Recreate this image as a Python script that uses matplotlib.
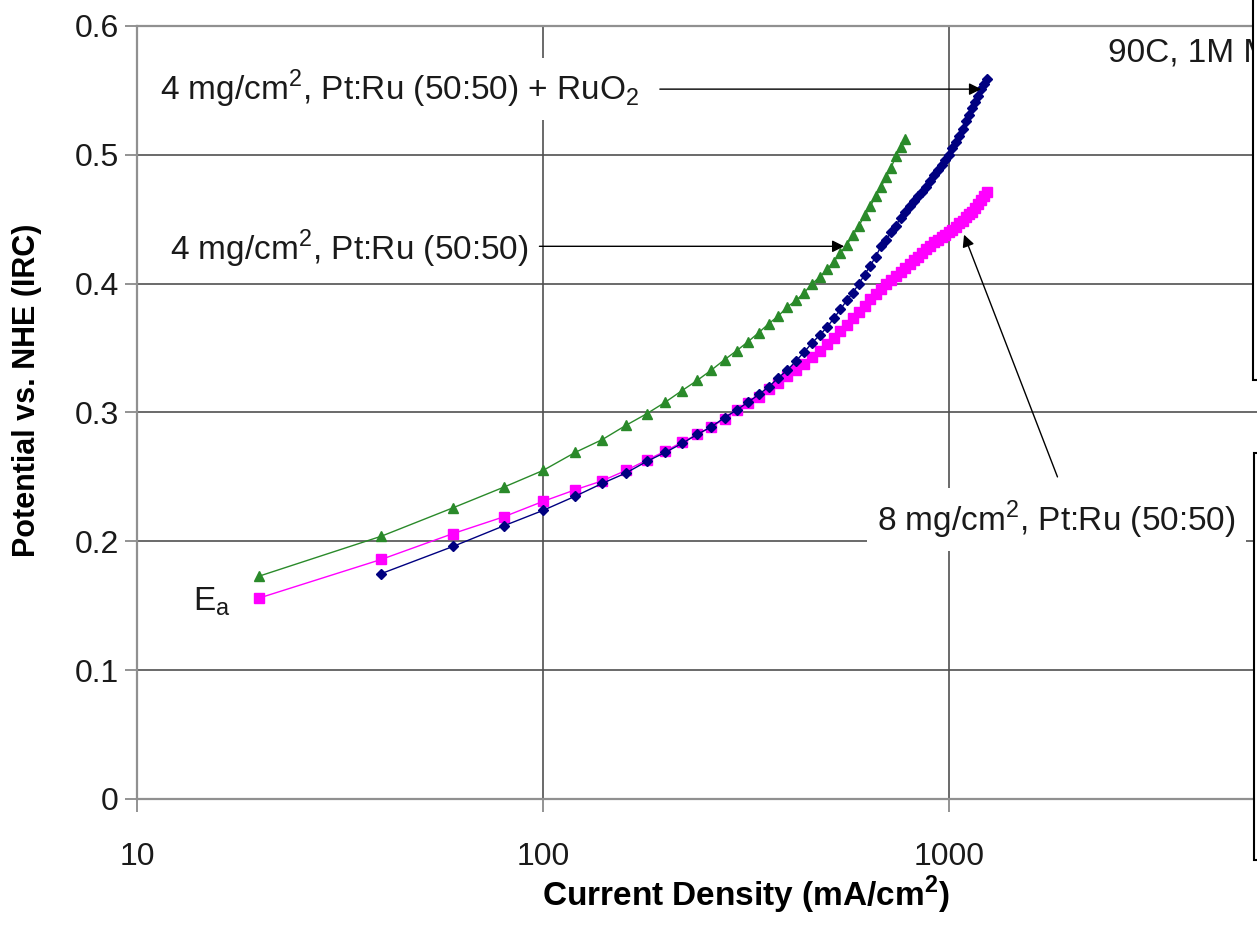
import matplotlib
matplotlib.use("Agg")
import matplotlib.pyplot as plt
from matplotlib.patches import Rectangle

plt.rcParams["font.family"] = ["Liberation Sans", "DejaVu Sans"]
plt.rcParams["mathtext.fontset"] = "custom"
plt.rcParams["mathtext.rm"] = "Liberation Sans"
plt.rcParams["mathtext.bf"] = "Liberation Sans:bold"

# Current density (mA/cm^2) and anode potential (V vs NHE, IR-corrected)
j_ptru4 = [20, 40, 60, 80, 100, 120, 140, 160, 180, 200, 220, 240, 260, 280, 300,
           320, 340, 360, 380, 400, 420, 440, 460, 480, 500, 520, 540, 560, 580, 600,
           620, 640, 660, 680, 700, 720, 740, 760, 780]
e_ptru4 = [0.173, 0.204, 0.226, 0.242, 0.255, 0.269, 0.279, 0.290, 0.299, 0.308,
           0.317, 0.325, 0.333, 0.341, 0.348, 0.355, 0.362, 0.369, 0.375, 0.382,
           0.387, 0.393, 0.400, 0.405, 0.411, 0.417, 0.424, 0.430, 0.438, 0.445,
           0.453, 0.460, 0.468, 0.475, 0.483, 0.490, 0.499, 0.506, 0.512]

j_ruo2 = [40, 60, 80, 100, 120, 140, 160, 180, 200, 220, 240, 260, 280, 300,
          320, 340, 360, 380, 400, 420, 440, 460, 480, 500, 520, 540, 560, 580, 600,
          620, 640, 660, 680, 700, 720, 740, 760, 780, 800, 820, 840, 860, 880, 900,
          920, 940, 960, 980, 1000, 1020, 1040, 1060, 1080, 1100, 1120, 1140, 1160,
          1180, 1200, 1220, 1240]
e_ruo2 = [0.175, 0.196, 0.212, 0.224, 0.235, 0.245, 0.253, 0.262, 0.269, 0.276,
          0.283, 0.289, 0.296, 0.302, 0.308, 0.314, 0.320, 0.327, 0.333, 0.340,
          0.347, 0.354, 0.360, 0.366, 0.373, 0.380, 0.387, 0.393, 0.400, 0.407,
          0.414, 0.421, 0.429, 0.434, 0.440, 0.445, 0.451, 0.456, 0.460, 0.464,
          0.468, 0.471, 0.475, 0.480, 0.484, 0.488, 0.492, 0.496, 0.500, 0.505,
          0.510, 0.515, 0.520, 0.526, 0.531, 0.536, 0.541, 0.546, 0.551, 0.555,
          0.559]

j_ptru8 = [20, 40, 60, 80, 100, 120, 140, 160, 180, 200, 220, 240, 260, 280, 300,
           320, 340, 360, 380, 400, 420, 440, 460, 480, 500, 520, 540, 560, 580, 600,
           620, 640, 660, 680, 700, 720, 740, 760, 780, 800, 820, 840, 860, 880, 900,
           920, 940, 960, 980, 1000, 1020, 1040, 1060, 1080, 1100, 1120, 1140, 1160,
           1180, 1200, 1220, 1240]
e_ptru8 = [0.156, 0.186, 0.206, 0.219, 0.231, 0.240, 0.247, 0.255, 0.263, 0.270,
           0.277, 0.283, 0.289, 0.295, 0.302, 0.307, 0.312, 0.318, 0.323, 0.328,
           0.333, 0.338, 0.343, 0.348, 0.353, 0.358, 0.363, 0.368, 0.373, 0.378,
           0.383, 0.388, 0.392, 0.396, 0.400, 0.403, 0.406, 0.409, 0.412, 0.415,
           0.418, 0.421, 0.424, 0.427, 0.429, 0.432, 0.434, 0.436, 0.438, 0.440,
           0.442, 0.444, 0.447, 0.449, 0.452, 0.454, 0.456, 0.459, 0.462, 0.465,
           0.468, 0.471]

x_ticks = [10, 100, 1000]
x_tick_labels = ["10", "100", "1000"]
y_ticks = [0, 0.1, 0.2, 0.3, 0.4, 0.5, 0.6]
y_tick_labels = ["0", "0.1", "0.2", "0.3", "0.4", "0.5", "0.6"]

W, H = 1257, 934
fig = plt.figure(figsize=(W / 100, H / 100), dpi=100)
ax = fig.add_axes([137 / W, 1 - 799 / H, 1218 / W, 773 / H])
ax.set_xscale("log")
ax.set_xlim(10, 10000)
ax.set_ylim(0, 0.6)

ax.grid(True, which="major", color="#505050", lw=1.2)
ax.minorticks_off()
ax.set_xticks(x_ticks)
ax.set_xticklabels(x_tick_labels)
ax.set_yticks(y_ticks)
ax.set_yticklabels(y_tick_labels)
ax.tick_params(axis="both", direction="out", length=9, width=1.2, color="#808080",
               labelsize=23, labelcolor="#1a1a1a")
ax.tick_params(axis="x", pad=22)
ax.tick_params(axis="y", pad=4)
for side in ("left", "bottom", "top"):
    ax.spines[side].set_color("#909090")
    ax.spines[side].set_linewidth(1.6)
ax.spines["right"].set_visible(False)

ax.plot(j_ptru4, e_ptru4, color="#2a8a2a", lw=1.0, marker="^", ms=6.5,
        mec="#2a8a2a", mfc="#2a8a2a", zorder=4)
ax.plot(j_ruo2, e_ruo2, color="#000080", lw=1.0, marker="D", ms=5,
        mec="#000080", mfc="#000080", zorder=4)
ax.plot(j_ptru8, e_ptru8, color="#ff00ff", lw=1.0, marker="s", ms=6.5,
        mec="#ff00ff", mfc="#ff00ff", zorder=3)

ax.set_xlabel(r"Current Density (mA/cm$^\mathbf{2}$)", fontsize=24, fontweight="bold")
ax.xaxis.set_label_coords((746 - 137) / 1218, -(874 - 799) / 773)
ax.set_ylabel("Potential vs. NHE (IRC)", fontsize=22, fontweight="bold")
ax.yaxis.set_label_coords(-(137 - 42) / 1218, (799 - 390) / 773)

box = dict(boxstyle="square,pad=0.3", fc="white", ec="none")
txt_kw = dict(fontsize=24, color="#1a1a1a", va="center", ha="left", zorder=6)
ax.text(11.4, 0.551, r"4 mg/cm$^\mathregular{2}$, Pt:Ru (50:50) + RuO$_\mathregular{2}$",
        bbox=box, **txt_kw)
ax.text(12.06, 0.427, r"4 mg/cm$^\mathregular{2}$, Pt:Ru (50:50)", bbox=box, **txt_kw)
ax.text(665, 0.217, r"8 mg/cm$^\mathregular{2}$, Pt:Ru (50:50)", bbox=box, **txt_kw)
ax.text(13.7, 0.153, r"E$_\mathregular{a}$", **txt_kw)
ax.text(2464, 0.579, "90C, 1M MeOH", **txt_kw)

arrow = dict(arrowstyle="-|>", color="black", lw=1.0, mutation_scale=18,
             shrinkA=0, shrinkB=0)
ax.annotate("", xy=(1200, 0.551), xytext=(194, 0.551), arrowprops=arrow, zorder=7)
ax.annotate("", xy=(552, 0.429), xytext=(98, 0.429), arrowprops=arrow, zorder=7)
ax.annotate("", xy=(1089, 0.438), xytext=(1850, 0.250), arrowprops=arrow, zorder=7)

# side panels partly outside the figure
fig.add_artist(Rectangle((1253 / W, 1 - 380 / H), 0.2, 380 / H + 0.1,
                         transform=fig.transFigure, fc="white", ec="black", lw=1.5,
                         zorder=10, clip_on=False))
fig.add_artist(Rectangle((1254 / W, 1 - 860 / H), 0.2, (860 - 453) / H,
                         transform=fig.transFigure, fc="white", ec="black", lw=1.5,
                         zorder=10, clip_on=False))

fig.savefig("out.png", dpi=100, facecolor="white")
